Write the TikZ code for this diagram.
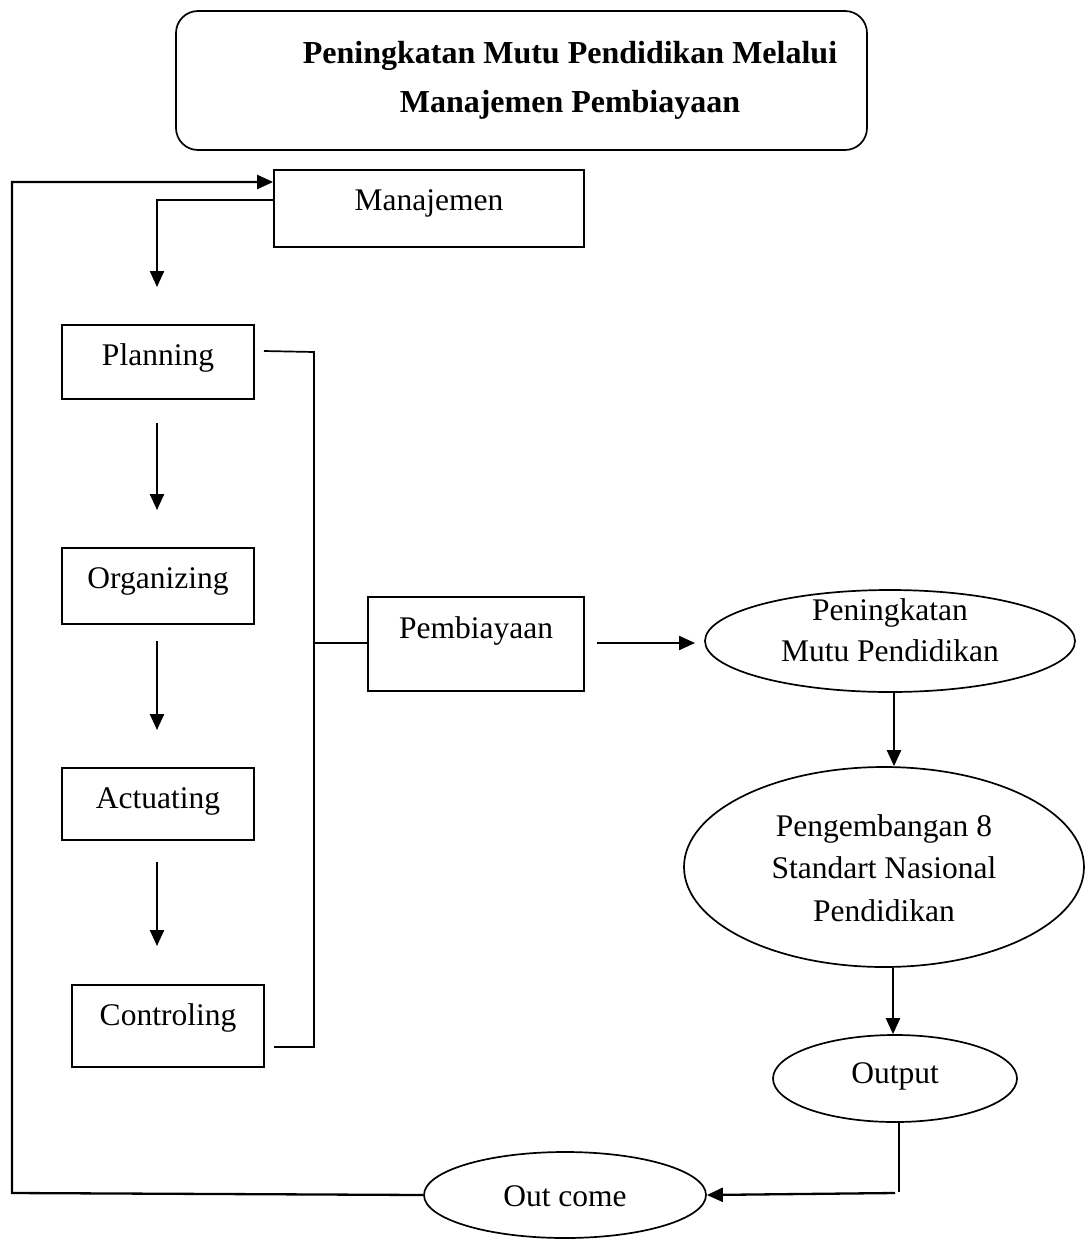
\documentclass[tikz,border=0pt]{standalone}
\usepackage{fontspec}
\setmainfont{Liberation Serif}
\usetikzlibrary{arrows.meta,shapes.geometric}
\begin{document}
\begin{tikzpicture}[x=1pt,y=-1pt,
  font=\fontsize{31.5}{41}\selectfont,
  boxshape/.style={draw,line width=1.7pt,inner sep=0pt},
  ell/.style={draw,ellipse,line width=1.7pt,inner sep=0pt},
  txt/.style={inner sep=0pt,align=center},
  arr/.style={line width=2.3pt,-{Triangle[length=16pt,width=14pt]}},
  ln/.style={line width=1.7pt}]
\useasboundingbox (0,0) rectangle (1085,1240);
% title
\node[boxshape,rounded corners=22pt,minimum width=691pt,minimum height=139pt] (title) at (521.5,80.5) {};
\node[txt,font=\fontsize{32}{49}\selectfont\bfseries] (titletxt) at (570,80) {Peningkatan Mutu Pendidikan Melalui\\Manajemen Pembiayaan};
% left column
\node[boxshape,minimum width=310pt,minimum height=77pt] (man) at (429,208.5) {};
\node[txt] (mantxt) at (429,203) {Manajemen};
\node[boxshape,minimum width=192pt,minimum height=74pt] (plan) at (158,362) {};
\node[txt] (plantxt) at (158,358) {Planning};
\node[boxshape,minimum width=192pt,minimum height=76pt] (org) at (158,586) {};
\node[txt] (orgtxt) at (158,581) {Organizing};
\node[boxshape,minimum width=192pt,minimum height=72pt] (act) at (158,804) {};
\node[txt] (acttxt) at (158,801) {Actuating};
\node[boxshape,minimum width=192pt,minimum height=82pt] (ctrl) at (168,1026) {};
\node[txt] (ctrltxt) at (168,1018) {Controling};
\node[boxshape,minimum width=216pt,minimum height=94pt] (biaya) at (476,644) {};
\node[txt] (biayatxt) at (476,631) {Pembiayaan};
% right column
\node[ell,minimum width=370pt,minimum height=102pt] (mutu) at (890,641) {};
\node[txt] (mututxt) at (890,630) {Peningkatan\\Mutu Pendidikan};
\node[ell,minimum width=400pt,minimum height=200pt] (snp) at (884,867) {};
\node[txt,font=\fontsize{31.5}{42.5}\selectfont] (snptxt) at (884,868) {Pengembangan 8\\Standart Nasional\\Pendidikan};
\node[ell,minimum width=244pt,minimum height=87pt] (out) at (895,1078.5) {};
\node[txt] (outtxt) at (895,1076) {Output};
\node[ell,minimum width=282pt,minimum height=86pt] (oc) at (565,1195) {};
\node[txt] (octxt) at (565,1196) {Out come};
% coordinates
\coordinate (cl1) at (12,1193);
\coordinate (cl2) at (12,182);
\coordinate (cm1) at (157,200);
\coordinate (cm2) at (157,287);
\coordinate (a1s) at (157,423); \coordinate (a1e) at (157,510);
\coordinate (a2s) at (157,641); \coordinate (a2e) at (157,730);
\coordinate (a3s) at (157,862); \coordinate (a3e) at (157,946);
\coordinate (b1) at (264,351);
\coordinate (b2) at (314,352);
\coordinate (b3) at (314,1047);
\coordinate (b4) at (274,1047);
\coordinate (b5) at (314,643);
\coordinate (p1) at (597,643);
\coordinate (p2) at (695,643);
\coordinate (o1) at (899,1192);
\coordinate (o2) at (895,1193);
% connectors
\draw[arr] (oc.west) -- (cl1) -- (cl2) -- (man.west |- cl2);
\draw[arr] (man.west |- cm1) -- (cm1) -- (cm2);
\draw[arr] (a1s) -- (a1e);
\draw[arr] (a2s) -- (a2e);
\draw[arr] (a3s) -- (a3e);
\draw[ln] (b1) -- (b2) -- (b3) -- (b4);
\draw[ln] (b5) -- (biaya.west |- b5);
\draw[arr] (p1) -- (p2);
\draw[arr] (mutu.south -| 894,0) -- (snp.north -| 894,0);
\draw[arr] (snp.south -| 893,0) -- (out.north -| 893,0);
\draw[ln] (out.south -| 899,0) -- (o1);
\draw[arr] (o2) -- (oc.east);
\end{tikzpicture}
\end{document}
